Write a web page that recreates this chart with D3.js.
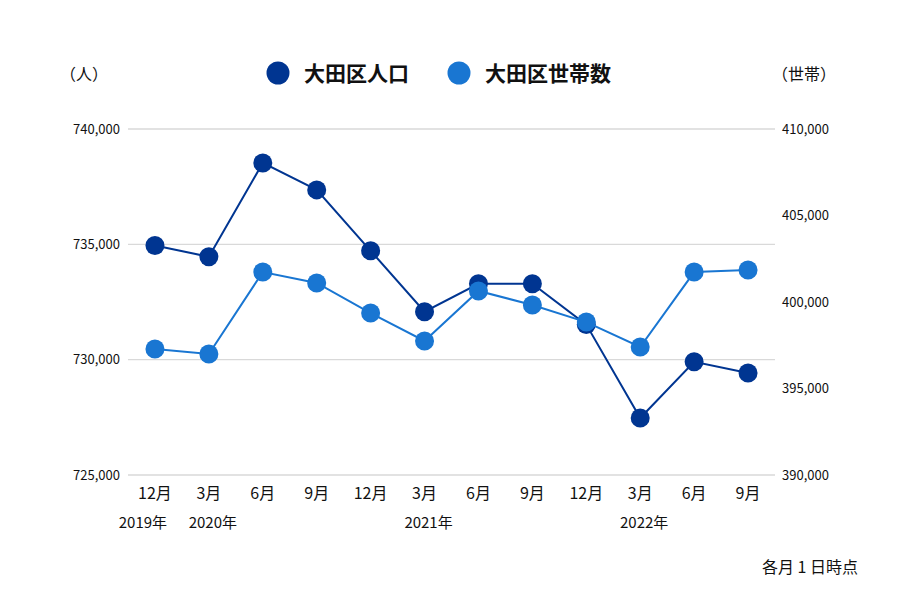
<!DOCTYPE html>
<html>
<head>
<meta charset="utf-8">
<script src="https://cdn.jsdelivr.net/npm/d3@7"></script>
<style>
  body { margin: 0; background: #fff; }
  svg text { font-family: "Noto Sans CJK JP", "Noto Sans", sans-serif; fill: #111; }
</style>
</head>
<body>
<svg width="900" height="600"></svg>
<script>
var months = ["12月", "3月", "6月", "9月", "12月", "3月", "6月", "9月", "12月", "3月", "6月", "9月"];
var years = [{i: 0, label: "2019年"}, {i: 1, label: "2020年"}, {i: 5, label: "2021年"}, {i: 9, label: "2022年"}];
var population = [734950, 734460, 738530, 737360, 734720, 732080, 733290, 733290, 731520, 727470, 729910, 729420];
var households = [397280, 396990, 401730, 401100, 399360, 397750, 400640, 399830, 398840, 397400, 401730, 401850];
var leftTicks = [725000, 730000, 735000, 740000];
var rightTicks = [390000, 395000, 400000, 405000, 410000];

var svg = d3.select("svg"),
    plotLeft = 128, plotRight = 775, plotTop = 129, plotBottom = 475;

var darkBlue = "#003591", lightBlue = "#1976d2";

var x = d3.scaleBand()
  .domain(d3.range(months.length))
  .range([plotLeft, plotRight]);

var yL = d3.scaleLinear().domain([725000, 740000]).range([plotBottom, plotTop]);
var yR = d3.scaleLinear().domain([390000, 410000]).range([plotBottom, plotTop]);

var fmt = d3.format(",");

// grid lines
svg.append("g")
  .selectAll("line")
  .data(leftTicks)
  .enter().append("line")
  .attr("x1", plotLeft).attr("x2", plotRight)
  .attr("y1", function(d) { return yL(d); })
  .attr("y2", function(d) { return yL(d); })
  .attr("stroke", "#d9d9d9")
  .attr("stroke-width", 1.3);

// left axis labels
svg.append("g")
  .selectAll("text")
  .data(leftTicks)
  .enter().append("text")
  .attr("x", 120)
  .attr("y", function(d) { return yL(d); })
  .attr("dy", "0.35em")
  .attr("text-anchor", "end")
  .attr("font-size", 13)
  .text(function(d) { return fmt(d); });

// right axis labels
svg.append("g")
  .selectAll("text")
  .data(rightTicks)
  .enter().append("text")
  .attr("x", 782)
  .attr("y", function(d) { return yR(d); })
  .attr("dy", "0.35em")
  .attr("font-size", 13)
  .text(function(d) { return fmt(d); });

// month labels
svg.append("g")
  .selectAll("text")
  .data(months)
  .enter().append("text")
  .attr("x", function(d, i) { return x(i) + x.bandwidth() / 2; })
  .attr("y", 499)
  .attr("text-anchor", "middle")
  .attr("font-size", 16)
  .text(function(d) { return d; });

// year labels
svg.append("g")
  .selectAll("text")
  .data(years)
  .enter().append("text")
  .attr("x", function(d) { return x(d.i) + x.bandwidth() / 2 + (d.i === 0 ? -12 : 4); })
  .attr("y", 528)
  .attr("text-anchor", "middle")
  .attr("font-size", 15)
  .text(function(d) { return d.label; });

function drawSeries(values, y, color) {
  var line = d3.line()
    .x(function(d, i) { return x(i) + x.bandwidth() / 2; })
    .y(function(d) { return y(d); });
  var g = svg.append("g");
  g.append("path")
    .datum(values)
    .attr("d", line)
    .attr("fill", "none")
    .attr("stroke", color)
    .attr("stroke-width", 2);
  g.selectAll("circle")
    .data(values)
    .enter().append("circle")
    .attr("cx", function(d, i) { return x(i) + x.bandwidth() / 2; })
    .attr("cy", function(d) { return y(d); })
    .attr("r", 9.5)
    .attr("fill", color);
}

drawSeries(population, yL, darkBlue);
drawSeries(households, yR, lightBlue);

// axis units
svg.append("text").attr("x", 60).attr("y", 80).attr("font-size", 16).text("（人）");
svg.append("text").attr("x", 772).attr("y", 80).attr("font-size", 16).text("（世帯）");

// legend
var legend = [{label: "大田区人口", color: darkBlue, x: 278}, {label: "大田区世帯数", color: lightBlue, x: 459}];
var lg = svg.append("g").selectAll("g").data(legend).enter().append("g");
lg.append("circle")
  .attr("cx", function(d) { return d.x; })
  .attr("cy", 73)
  .attr("r", 11.5)
  .attr("fill", function(d) { return d.color; });
lg.append("text")
  .attr("x", function(d) { return d.x + 26; })
  .attr("y", 73)
  .attr("dy", "0.36em")
  .attr("font-size", 21)
  .attr("font-weight", "bold")
  .text(function(d) { return d.label; });

// note
svg.append("text")
  .attr("x", 858).attr("y", 573)
  .attr("text-anchor", "end")
  .attr("font-size", 16)
  .text("各月 1 日時点");
</script>
</body>
</html>
